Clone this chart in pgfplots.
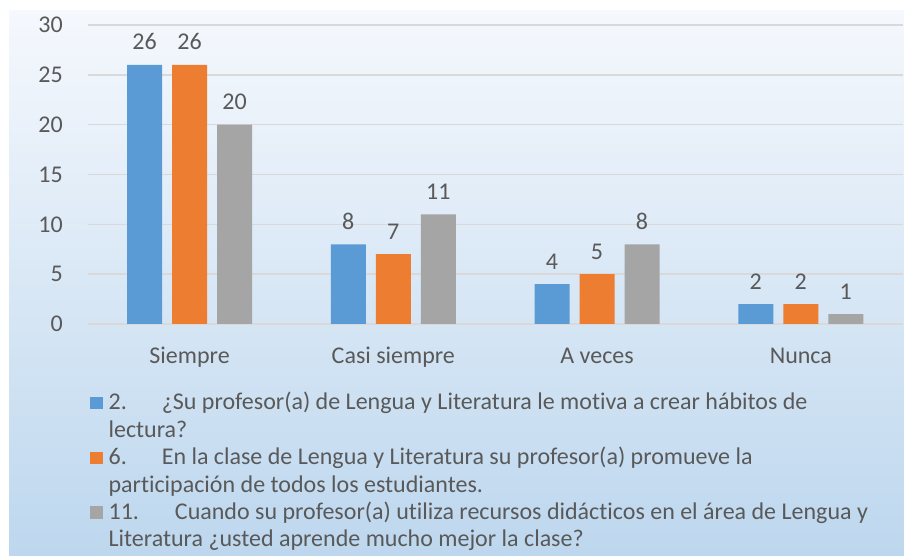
\documentclass[border=0pt]{standalone}
\usepackage{fontspec}
\setmainfont{Carlito}[Ligatures={NoCommon}]
\usepackage{pgfplots}
\pgfplotsset{compat=1.18}
\definecolor{cblue}{HTML}{5B9BD5}
\definecolor{corange}{HTML}{ED7D31}
\definecolor{cgray}{HTML}{A5A5A5}
\definecolor{txt}{HTML}{595959}
\definecolor{gridc}{HTML}{D9D9D9}
\definecolor{bgtop}{HTML}{F5F8FD}
\definecolor{bgbot}{HTML}{BDD7EE}
\newcommand\cf{\fontsize{12pt}{13.7pt}\selectfont}
\pgfplotsset{/pgfplots/ybar legend/.style={/pgfplots/legend image code/.code={\fill[##1] (0pt,0.3pt) rectangle (6.3pt,6.6pt);}}}
\begin{document}
\begin{tikzpicture}
\useasboundingbox (0,0) rectangle (452pt,278pt);
\fill[white] (0,0) rectangle (452pt,278pt);
\shade[top color=bgtop,bottom color=bgbot] (4.5pt,0) rectangle (452pt,272.5pt);
\begin{axis}[
 at={(43.85pt,116pt)}, anchor=south west,
 scale only axis, width=407.5pt, height=149.5pt,
 xmin=-0.5,xmax=3.5,ymin=0,ymax=30,
 xtick={0,1,2,3}, xticklabels={Siempre,Casi siempre,A veces,Nunca},
 ytick={0,5,...,30},
 ymajorgrids, grid style={draw=gridc,line width=0.75pt},
 axis line style={draw=none}, tick style={draw=none},
 ybar=5pt, bar width=17.5pt,
 font=\cf,
 /pgf/number format/assume math mode=true,
 ticklabel style={text=txt},
 yticklabel style={inner sep=0pt,anchor=east,xshift=-12.3pt},
 xticklabel style={inner sep=0pt,anchor=base,yshift=-15.5pt},
 nodes near coords,
 nodes near coords style={text=txt,inner sep=0pt,anchor=base,yshift=7.5pt,font=\cf},
 clip=false,
 legend style={at={(0.0028,-0.2232)}, anchor=north west, draw=none, fill=none,
   inner sep=0pt, outer sep=0pt, row sep=0pt, column sep=3pt,
   cells={anchor=base west},
   nodes={inner sep=0pt, text depth=, font=\cf, text=txt}},
]
\addplot[fill=cblue,draw=none] coordinates {(0,26) (1,8) (2,4) (3,2)};
\addlegendentry{\parbox[t]{400pt}{\strut 2.\hspace{17.5pt}¿Su profesor(a) de Lengua y Literatura le motiva a crear hábitos de\\lectura?\strut}}
\addplot[fill=corange,draw=none] coordinates {(0,26) (1,7) (2,5) (3,2)};
\addlegendentry{\parbox[t]{400pt}{\strut 6.\hspace{17.5pt}En la clase de Lengua y Literatura su profesor(a) promueve la\\participación de todos los estudiantes.\strut}}
\addplot[fill=cgray,draw=none] coordinates {(0,20) (1,11) (2,8) (3,1)};
\addlegendentry{\parbox[t]{400pt}{\strut 11.\hspace{18pt}Cuando su profesor(a) utiliza recursos didácticos en el área de Lengua y\\Literatura ¿usted aprende mucho mejor la clase?\strut}}
\end{axis}
\end{tikzpicture}
\end{document}
